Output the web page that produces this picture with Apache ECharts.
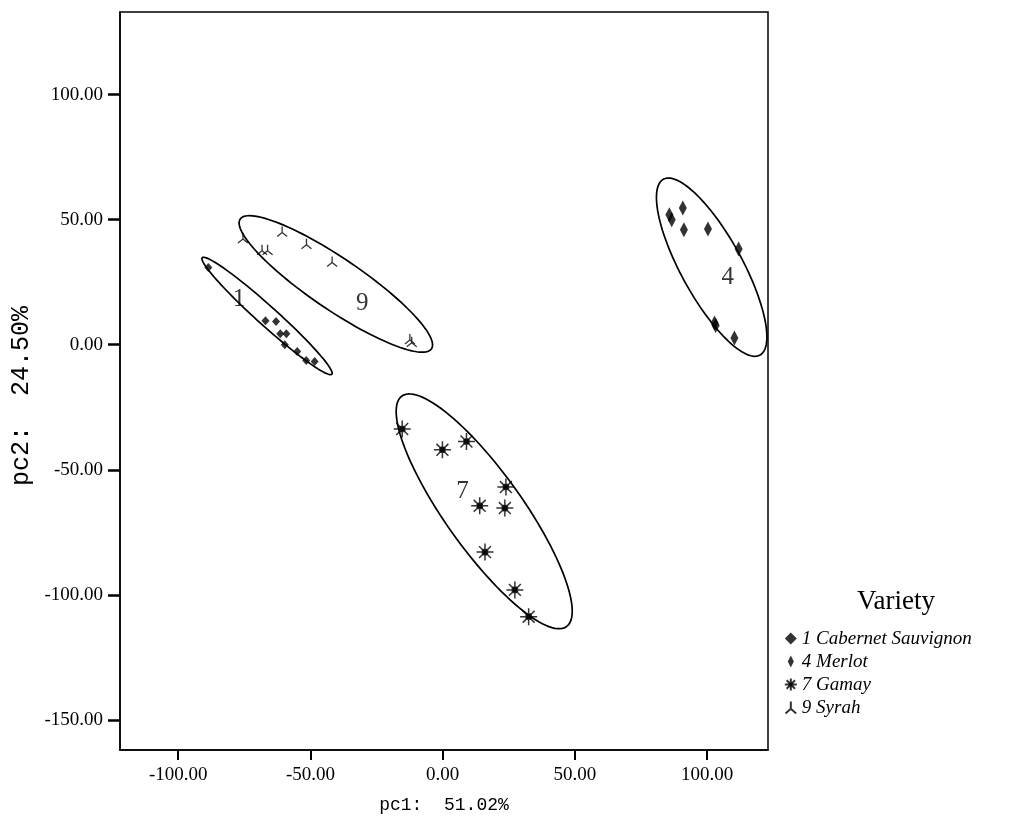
<!DOCTYPE html>
<html>
<head>
<meta charset="utf-8">
<script src="https://cdn.jsdelivr.net/npm/echarts@6/dist/echarts.min.js"></script>
<style>
html, body { margin: 0; padding: 0; background: #fff; }
#chart { width: 1014px; height: 826px; }
</style>
</head>
<body>
<div id="chart"></div>
<script>
// PCA scores [pc1, pc2] per variety
const cabernet = [[-88.6, 30.9], [-67.0, 9.6], [-63.0, 9.3], [-61.4, 4.4], [-59.1, 4.4], [-59.7, 0], [-55.0, -2.7], [-51.6, -6.3], [-48.4, -6.7]];
const merlot = [[85.7, 52], [86.6, 50], [90.8, 54.7], [91.2, 46], [100.3, 46.3], [111.9, 38.3], [102.8, 8.7], [103.2, 7.7], [110.3, 2.7]];
const gamay = [[-15.3, -33.7], [-0.1, -42], [9.0, -38.7], [23.9, -56.9], [14.0, -64.4], [23.5, -65.3], [16.0, -82.9], [27.3, -98], [32.5, -108.7]];
const syrah = [[-75.5, 42.7], [-68.3, 38], [-66.2, 38], [-60.7, 45.3], [-51.5, 40.4], [-41.8, 33.3], [-12.4, 2.3], [-11.7, 1.2]];

// confidence ellipses (order: 1, 4, 7, 9)
const ellipseCenters = [[-66.4, 11.5], [101.7, 31.0], [15.7, -66.6], [-40.4, 24.3]];
const ellipseSemiMajor = [33.8, 39.6, 55.6, 44.5];
const ellipseSemiMinor = [3.8, 11.7, 14.8, 10.1];
const ellipseAngle = [-43.6, -62.8, -56.2, -35.8];

const clusterNames = ['1', '4', '7', '9'];
const clusterLabelPos = [[-77, 18], [107.8, 26.7], [7.5, -58.7], [-30.4, 16.7]];

const xTicks = [-100, -50, 0, 50, 100];
const yTicks = [-150, -100, -50, 0, 50, 100];

const serif = 'Liberation Serif';
const mono = 'Liberation Mono';

// marker shapes
const diamondPath = 'path://M0,-10 L5,0 L0,10 L-5,0 Z';
const starPath = 'path://M0,-10 L0,10 M-10,0 L10,0 M-7,-7 L7,7 M-7,7 L7,-7 M-3,-3 L3,-3 L3,3 L-3,3 Z';
const triPath = 'path://M0,-10 L0,1 M0,1 L-8,8 M0,1 L8,8';

let chart = echarts.init(document.getElementById('chart'));

chart.setOption({
  animation: false,
  backgroundColor: '#fff',
  title: {
    text: 'Variety',
    left: 852,
    top: 583,
    textStyle: { fontFamily: serif, fontSize: 27, fontWeight: 'normal', color: '#000' }
  },
  legend: {
    orient: 'vertical',
    left: 778,
    top: 624,
    itemWidth: 12,
    itemHeight: 12,
    itemGap: 4,
    symbolKeepAspect: true,
    data: [
      { name: '1 Cabernet Sauvignon', icon: 'diamond' },
      { name: '4 Merlot', icon: diamondPath },
      { name: '7 Gamay', icon: starPath },
      { name: '9 Syrah', icon: triPath }
    ],
    textStyle: { fontFamily: serif, fontStyle: 'italic', fontSize: 19, color: '#000', lineHeight: 19 }
  },
  grid: {
    left: 120,
    right: 246,
    top: 12,
    bottom: 76,
    show: true,
    borderColor: '#000',
    borderWidth: 1.5
  },
  xAxis: {
    type: 'value',
    min: -122,
    max: 123,
    name: 'pc1:  51.02%',
    nameLocation: 'middle',
    nameGap: 46,
    nameTextStyle: { fontFamily: mono, fontSize: 18, color: '#000' },
    axisLine: { onZero: false, lineStyle: { color: '#000', width: 1.5 } },
    axisTick: { show: true, length: 10, customValues: xTicks, lineStyle: { color: '#000', width: 2 } },
    axisLabel: {
      customValues: xTicks,
      margin: 16,
      fontFamily: serif,
      fontSize: 19,
      color: '#000',
      formatter: v => v.toFixed(2)
    },
    splitLine: { show: false }
  },
  yAxis: {
    type: 'value',
    min: -162,
    max: 133,
    name: 'pc2:  24.50%',
    nameLocation: 'middle',
    nameGap: 86,
    nameTextStyle: { fontFamily: mono, fontSize: 25, color: '#000', padding: [0, 30, 0, 0] },
    axisLine: { onZero: false, lineStyle: { color: '#000', width: 1.5 } },
    axisTick: { show: true, length: 12, customValues: yTicks, lineStyle: { color: '#000', width: 2.5 } },
    axisLabel: {
      customValues: yTicks,
      margin: 17,
      fontFamily: serif,
      fontSize: 19,
      color: '#000',
      formatter: v => v.toFixed(2)
    },
    splitLine: { show: false }
  },
  series: [
    {
      name: '1 Cabernet Sauvignon',
      type: 'scatter',
      symbol: 'diamond',
      symbolSize: [8, 9],
      itemStyle: { color: '#000' },
      data: cabernet
    },
    {
      name: '4 Merlot',
      type: 'scatter',
      symbol: 'diamond',
      symbolSize: [8, 15],
      itemStyle: { color: '#000' },
      data: merlot
    },
    {
      name: '7 Gamay',
      type: 'scatter',
      symbol: starPath,
      symbolSize: 17,
      itemStyle: { color: '#000', borderColor: '#000', borderWidth: 1.5 },
      data: gamay
    },
    {
      name: '9 Syrah',
      type: 'scatter',
      symbol: triPath,
      symbolSize: 10,
      itemStyle: { color: 'none', borderColor: '#000', borderWidth: 1.3 },
      data: syrah
    },
    {
      type: 'custom',
      silent: true,
      data: ellipseCenters.map((c, i) => [c[0], c[1], ellipseSemiMajor[i], ellipseSemiMinor[i], ellipseAngle[i]]),
      encode: { x: 0, y: 1 },
      renderItem: function (params, api) {
        let cx = api.value(0), cy = api.value(1);
        let a = api.value(2), b = api.value(3);
        let th = api.value(4) * Math.PI / 180;
        let pts = [];
        for (let k = 0; k < 120; k++) {
          let t = k / 120 * Math.PI * 2;
          let dx = a * Math.cos(t), dy = b * Math.sin(t);
          pts.push(api.coord([cx + dx * Math.cos(th) - dy * Math.sin(th), cy + dx * Math.sin(th) + dy * Math.cos(th)]));
        }
        return {
          type: 'polygon',
          shape: { points: pts },
          style: { fill: 'none', stroke: '#000', lineWidth: 1.7 }
        };
      }
    },
    {
      type: 'scatter',
      silent: true,
      symbolSize: 0,
      data: clusterLabelPos.map((p, i) => ({ value: p, name: clusterNames[i] })),
      label: {
        show: true,
        position: 'inside',
        formatter: '{b}',
        fontFamily: serif,
        fontSize: 25,
        color: '#000'
      }
    }
  ]
});
</script>
</body>
</html>
